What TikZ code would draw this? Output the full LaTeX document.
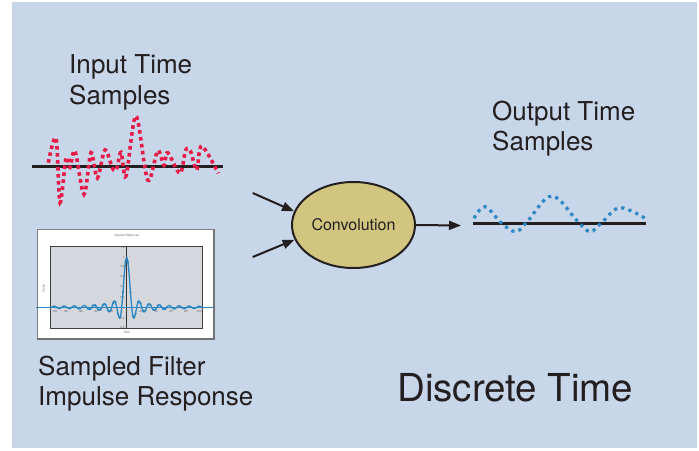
\documentclass[tikz,border=0pt]{standalone}
\usepackage{fontspec}
\setmainfont{TeX Gyre Heros}
\usetikzlibrary{shapes.geometric,arrows.meta}
\definecolor{bgblue}{RGB}{200,214,233}
\definecolor{txt}{RGB}{35,31,32}
\definecolor{sigred}{RGB}{232,28,72}
\definecolor{sigblue}{RGB}{45,135,195}
\definecolor{convfill}{RGB}{209,197,127}
\definecolor{plotgray}{RGB}{212,215,219}
\tikzset{
  label/.style={font=\fontsize{26}{30.5}\selectfont, text=txt, inner sep=0pt, align=left, anchor=north west},
  arr/.style={line width=2pt, draw=txt, -{Triangle[length=12pt,width=9pt]}},
  tiny/.style={font=\fontsize{3}{3.5}\selectfont, text=black!60, inner sep=0pt},
  axisline/.style={line width=3.5pt, draw=txt},
}
\begin{document}
\begin{tikzpicture}[x=1pt,y=-1pt]
\useasboundingbox (0,0) rectangle (699,450);
\fill[white] (0,0) rectangle (699,450);
\fill[bgblue] (12,2) rectangle (697,448);

% labels
\node[label] (inlab) at (69,54.5) {Input Time\\Samples};
\node[label] (outlab) at (492,100.5) {Output Time\\Samples};
\node[label] (filtlab) at (38,355.5) {Sampled Filter\\Impulse Response};
\node[font=\fontsize{38.5}{41}\selectfont, text=txt, inner sep=0pt, anchor=base west] (dt) at (397,401) {Discrete Time};

% input samples
\draw[axisline] (32,166.7) -- (222.7,166.7);
\draw[sigred, line width=3.6pt, dash pattern=on 3.6pt off 3.4pt]
  plot[smooth, tension=0.55] coordinates {
  (48.3,162.7) (56,138.3) (60,202.7) (66,158.3) (70,167.3) (75,151) (84,194.3)
  (91,152.7) (97.3,178) (105,150) (112.7,168.7) (116.7,168.7) (121,152.3)
  (126,176) (136,116) (147.7,180) (157.7,150.7) (164,165.3) (167.7,152.7)
  (180,173.3) (185.7,150) (190.7,151.7) (196.7,170) (201.7,146) (218.3,173.3)};

% output samples
\draw[axisline, line width=3pt] (472.7,223.3) -- (646,223.3);
\draw[sigblue, line width=3.2pt, dash pattern=on 3.2pt off 4.3pt]
  plot[smooth, tension=0.6] coordinates {
  (474,218.3) (485,206.7) (501.7,223.3) (515.7,231.7) (526.7,222.3) (551.7,196)
  (577.3,221) (590,231.7) (601.7,222.7) (620,207.7) (646.7,219.3)};

% impulse response picture
\node[draw=black!50, line width=1pt, fill=white, minimum width=176pt, minimum height=109pt, inner sep=0pt] (irbox) at (125.3,283.8) {};
\draw[black!55, line width=1.6pt] (irbox.north east) -- (irbox.south east) -- (irbox.south west);
\node[draw=black!75, line width=0.9pt, fill=plotgray, minimum width=152pt, minimum height=82.3pt, inner sep=0pt] (irplot) at (126.7,287.2) {};
\draw[black!80, line width=0.9pt] (irplot.north) -- (irplot.south);
\node[tiny] (irtitle) at (126.7,236) {Impulse Response};
\node[tiny] (irtime) at (126.7,332.5) {Time};
\node[tiny, rotate=90] (irval) at (43.5,288.3) {Value};
\foreach \v/\yy in {1.2/247.7,1/257.3,0.8/266.7,0.6/276.7,0.4/286.7,0.2/297.3,-0.2/318.3,-0.4/327.3}
  \node[tiny, anchor=east] at (124.7,\yy) {\v};
\foreach \t/\xx in {-100/54.3,-80/65.7,-60/80.7,-40/95.7,-20/111,0/126.7,20/141,40/156,60/171,80/186,100/199.3}
  \node[tiny] at (\xx,311) {\t};
\draw[sigblue, line width=1pt] (36,307.3) -- (213,307.3);
\draw[sigblue, line width=1.3pt] plot[domain=-75.25:75.25, samples=302] ({126.7+\x},{307.3-50*sin(36*\x)/(0.62832*\x)});
\fill[sigblue] plot[only marks, mark=*, mark size=0.9pt, domain=-38.75:38.75, samples=32] ({126.7+\x},{307.3-50*sin(36*\x)/(0.62832*\x)});

% convolution
\node[ellipse, draw=txt, line width=2pt, fill=convfill, minimum width=123pt, minimum height=86pt, inner sep=0pt,
      font=\fontsize{16}{18}\selectfont, text=txt] (conv) at (353.5,225) {Convolution};
\coordinate (in1) at (252.7,193);
\coordinate (in2) at (252.7,257);
\coordinate (out) at (461,225.5);
\draw[arr] (in1) -- (conv.167);
\draw[arr] (in2) -- (conv.194);
\draw[arr] (conv.east) -- (out);
\end{tikzpicture}
\end{document}
